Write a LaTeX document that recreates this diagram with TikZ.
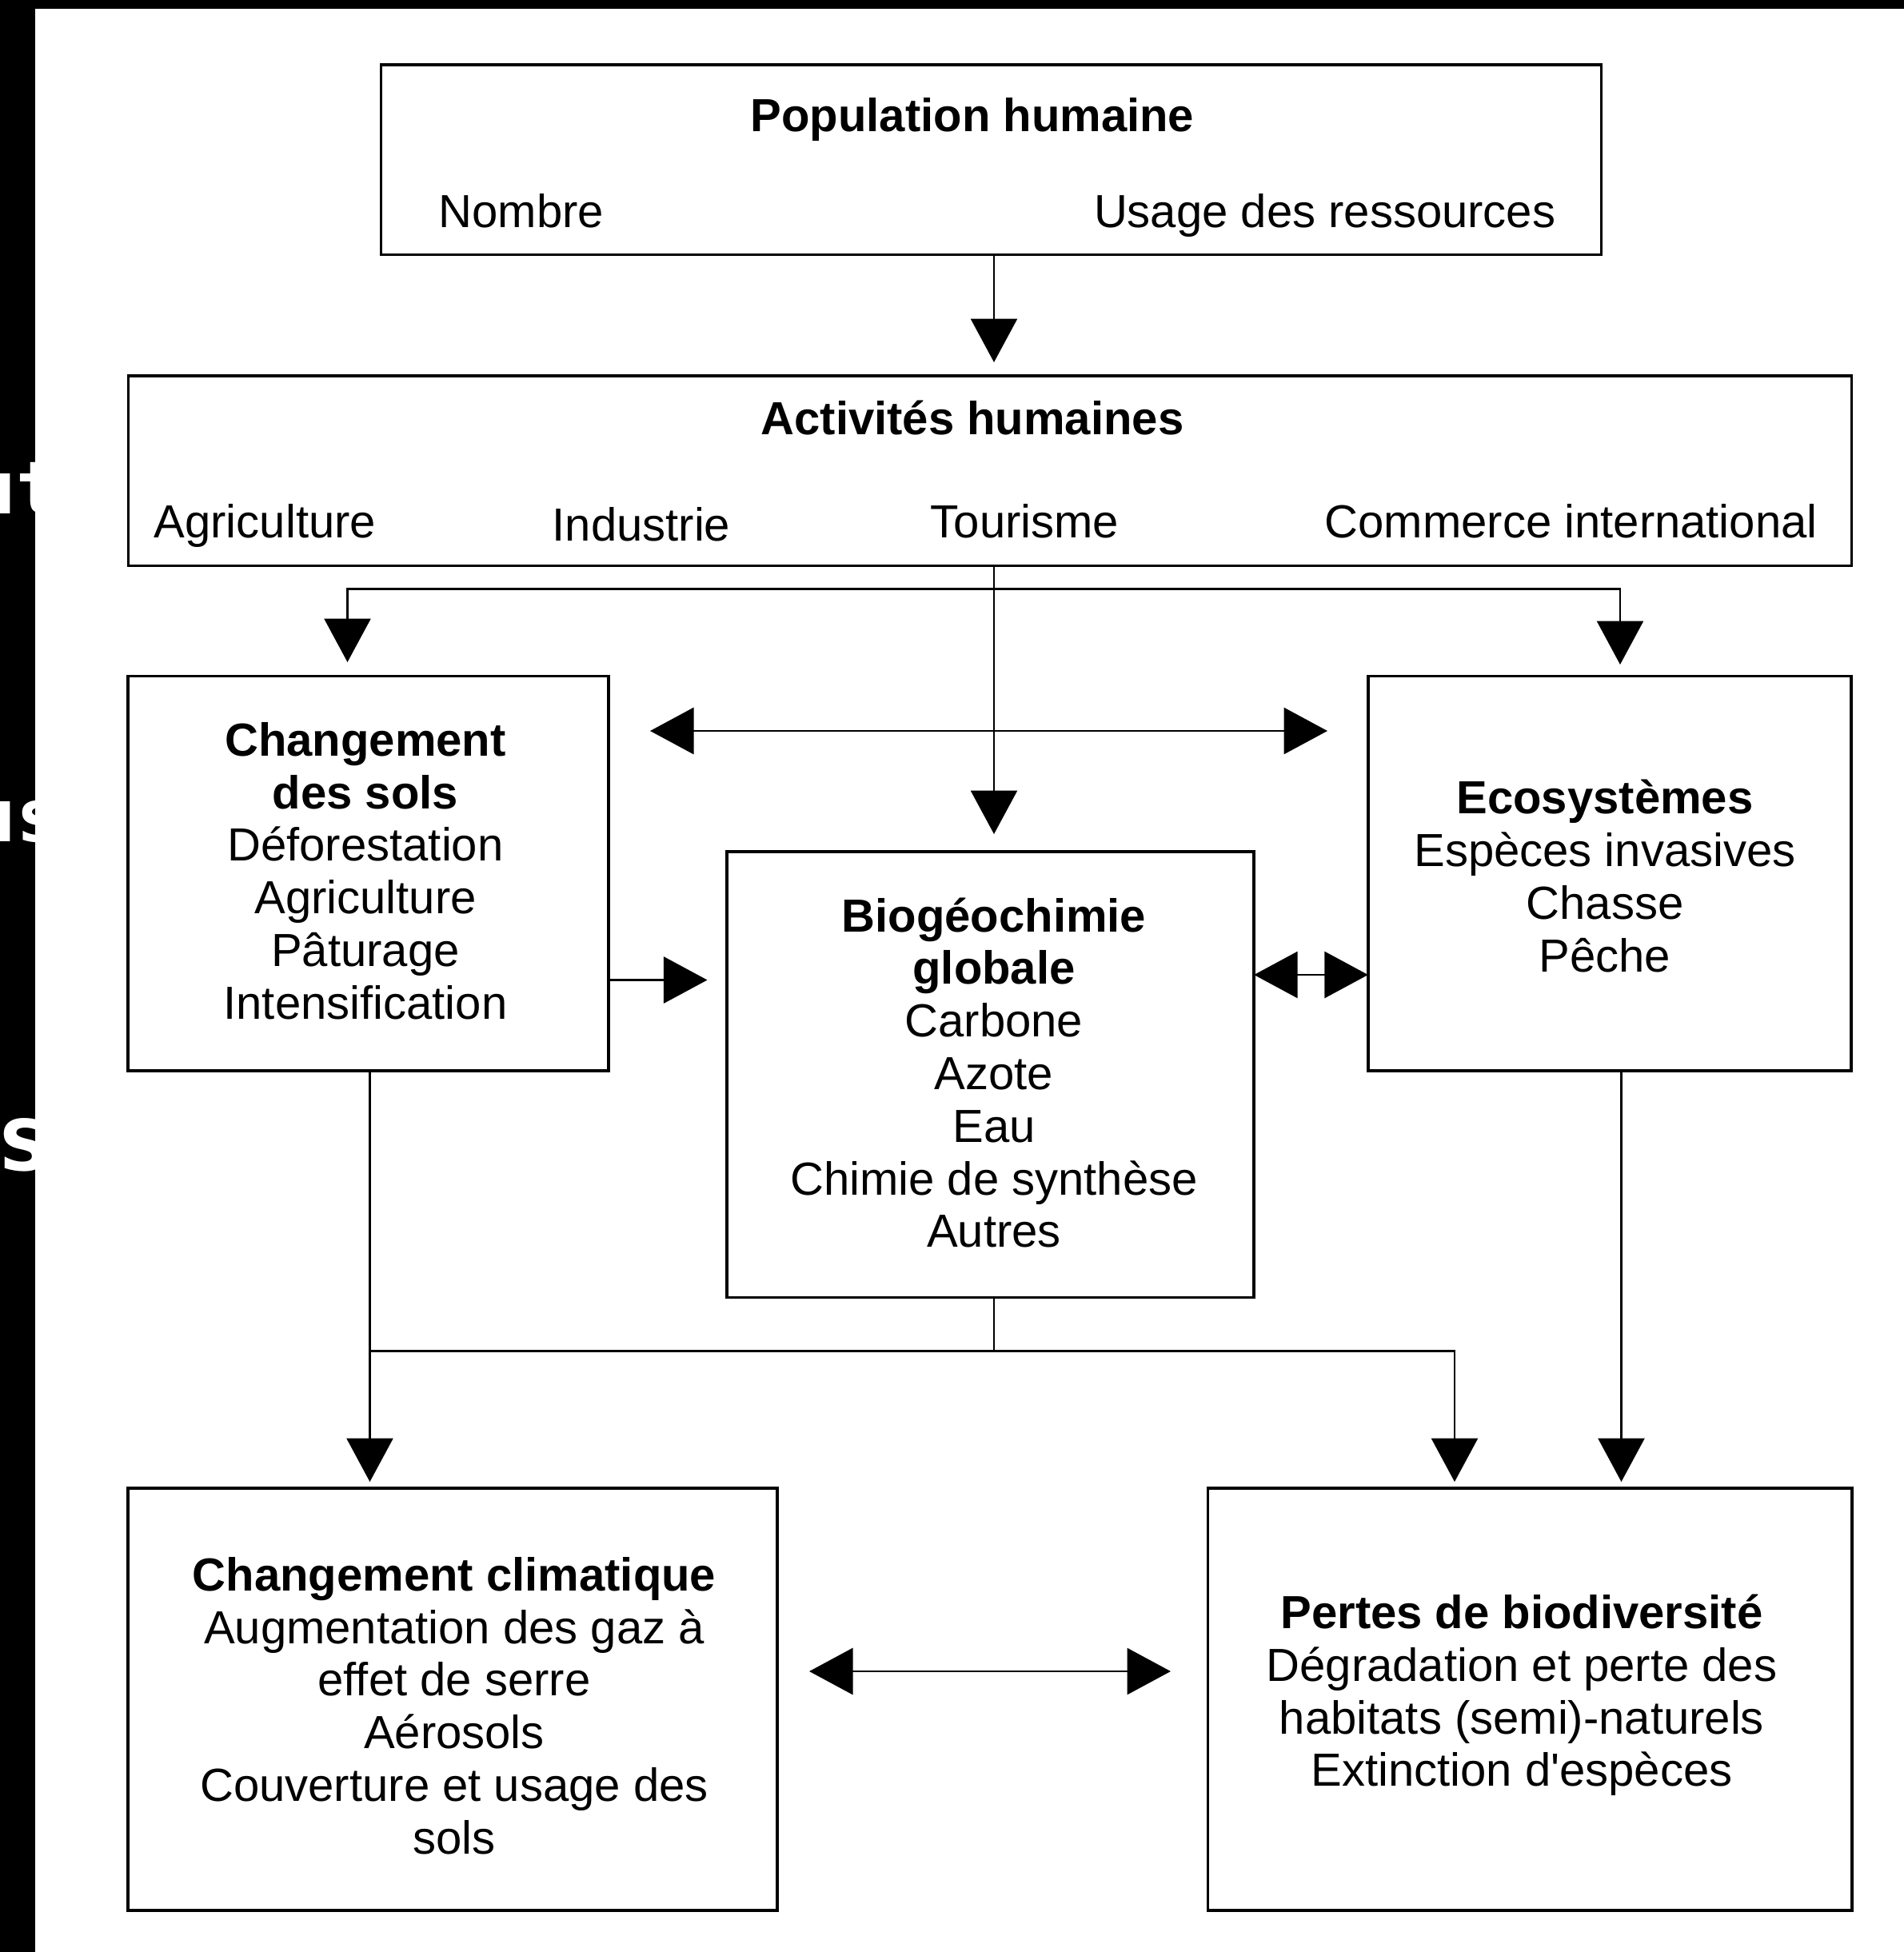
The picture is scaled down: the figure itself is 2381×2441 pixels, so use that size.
\documentclass[tikz,border=0pt]{standalone}
\usepackage{fontspec}
\setmainfont{Liberation Sans}
\newfontfamily\fragfont{DejaVu Sans Mono}
\usetikzlibrary{arrows.meta,calc}
\begin{document}
\begin{tikzpicture}[x=0.01cm,y=-0.01cm,
  box/.style={draw=black,line width=1pt,rectangle,inner sep=0pt,outer sep=0pt},
  txt/.style={font=\fontsize{16.5}{18.7}\selectfont,inner sep=0pt,align=center},
  lbl/.style={font=\fontsize{16.5}{18.7}\selectfont,inner sep=0pt},
  ttl/.style={font=\fontsize{16.5}{18.7}\selectfont\bfseries,inner sep=0pt},
  conn/.style={line width=0.8pt,draw=black},
  arr/.style={conn,-{Triangle[length=15.5pt,width=16.5pt]}},
  darr/.style={conn,{Triangle[length=15.5pt,width=16.5pt]}-{Triangle[length=15.5pt,width=16.5pt]}},
  frag/.style={text=white,inner sep=0pt,font=\fragfont\bfseries\fontsize{26}{26}\selectfont},
  fragbig/.style={text=white,inner sep=0pt,font=\fragfont\bfseries\fontsize{33}{33}\selectfont},
]
\useasboundingbox (0,0) rectangle (2381,2441);
\fill[white] (0,0) rectangle (2381,2441);
% black bands
\fill[black] (0,0) rectangle (44,2441);
\fill[black] (0,0) rectangle (2381,11);
\begin{scope}
\clip (0,0) rectangle (44,2441);
\node[frag,anchor=base west] (fragA) at (-35,642) {ut};
\node[frag,anchor=base west] (fragB) at (-35,1052) {us};
\node[fragbig,anchor=base west] (fragC) at (-5,1463) {s};
\end{scope}

% boxes
\node[box,minimum width=15.25cm,minimum height=2.375cm] (pop) at (1239.5,199.75) {};
\node[box,minimum width=21.54cm,minimum height=2.375cm] (act) at (1238,588.75) {};
\node[box,minimum width=6.01cm,minimum height=4.935cm] (sols) at (460.5,1092.25) {};
\node[box,minimum width=6.04cm,minimum height=4.935cm] (eco) at (2013,1092.25) {};
\node[box,minimum width=6.59cm,minimum height=5.575cm] (bio) at (1238.5,1343.75) {};
\node[box,minimum width=8.12cm,minimum height=5.28cm] (clim) at (566,2125) {};
\node[box,minimum width=8.05cm,minimum height=5.28cm] (bdv) at (1913,2125) {};

% texts
\node[ttl,anchor=base] (popT) at (1216,164) {Population humaine};
\node[lbl,anchor=base west] (popN) at (548,284) {Nombre};
\node[lbl,anchor=base east] (popU) at (1946,284) {Usage des ressources};
\node[ttl,anchor=base] (actT) at (1216,543) {Activités humaines};
\node[lbl,anchor=base west] (actA) at (192,672) {Agriculture};
\node[lbl,anchor=base west] (actI) at (690,676) {Industrie};
\node[lbl,anchor=base west] (actTo) at (1163,672) {Tourisme};
\node[lbl,anchor=base west] (actC) at (1656,672) {Commerce international};

\node[txt] (solsT) at (457,1089) {\textbf{Changement}\\\textbf{des sols}\\Déforestation\\Agriculture\\Pâturage\\Intensification};
\node[txt] (ecoT) at (2007,1095.5) {\textbf{Ecosystèmes}\\Espèces invasives\\Chasse\\Pêche};
\node[txt] (bioT) at (1243,1341.5) {\textbf{Biogéochimie}\\\textbf{globale}\\Carbone\\Azote\\Eau\\Chimie de synthèse\\Autres};
\node[txt] (climT) at (568,2133) {\textbf{Changement climatique}\\Augmentation des gaz à\\effet de serre\\Aérosols\\Couverture et usage des\\sols};
\node[txt] (bdvT) at (1903,2120) {\textbf{Pertes de biodiversité}\\Dégradation et perte des\\habitats (semi)-naturels\\Extinction d\textquotesingle espèces};

% connector coordinates
\coordinate (a1) at (1243,453);
\coordinate (j1) at (1243,736.5);
\coordinate (t5) at (1243,1043);
\coordinate (tl) at (434.5,828);
\coordinate (tr) at (2026,831);
\coordinate (dl) at (813,914);
\coordinate (dr) at (1660,914);
\coordinate (t35) at (884.5,1225.5);
\coordinate (y54) at (0,1219);
\coordinate (j2) at (1243,1689.5);
\coordinate (t6) at (462.5,1853);
\coordinate (t7a) at (1819,1853);
\coordinate (t7b) at (2027.5,1853);
\coordinate (bl) at (1012,2090);
\coordinate (br) at (1464,2090);

% connectors
\draw[arr] (a1 |- pop.south) -- (a1);
\draw[arr] (t5 |- act.south) -- (t5);
\draw[arr] (j1) -| (tl);
\draw[arr] (j1) -| (tr);
\draw[darr] (dl) -- (dr);
\draw[arr] (t35 -| sols.east) -- (t35);
\draw[darr] (bio.east |- y54) -- (eco.west |- y54);
\draw[conn] (j2 |- bio.south) -- (j2);
\draw[arr] (t6 |- sols.south) -- (t6);
\draw[arr] (t6 |- j2) -| (t7a);
\draw[arr] (t7b |- eco.south) -- (t7b);
\draw[darr] (bl) -- (br);
\end{tikzpicture}
\end{document}
